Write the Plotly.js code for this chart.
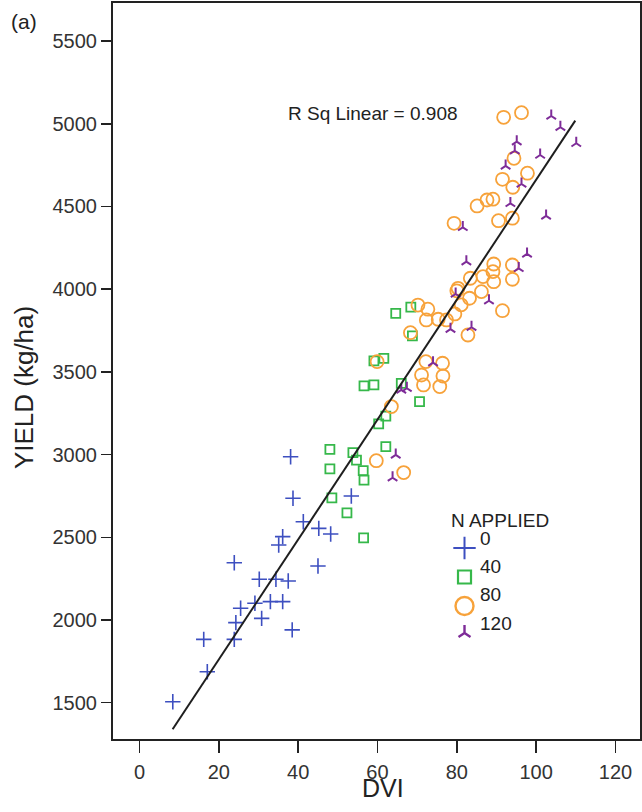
<!DOCTYPE html>
<html><head><meta charset="utf-8">
<script src="https://cdn.plot.ly/plotly-3.0.1.min.js"></script>
<style>html,body{margin:0;padding:0;background:#fff;}#chart{width:642px;height:812px;}</style>
</head><body><div id="chart"></div>
<script>
// ---- data ----
const nLevels = ['0', '40', '80', '120'];
const legendTitle = 'N APPLIED';

const dvi0   = [38.1, 38.7, 41.3, 45.2, 48.2, 36.1, 35.1, 23.9, 45.0, 30.2, 34.4, 37.5, 25.5, 29.1, 33.0, 36.1, 24.3, 30.8, 38.5, 16.2, 23.9, 17.1, 8.4, 53.4];
const yield0 = [2987, 2736, 2594, 2554, 2520, 2504, 2453, 2346, 2326, 2246, 2246, 2236, 2071, 2101, 2111, 2111, 1984, 2010, 1940, 1883, 1883, 1687, 1506, 2750];

const dvi40   = [64.6, 68.4, 68.8, 59.1, 61.6, 56.6, 59.1, 66.0, 70.6, 62.1, 60.3, 62.1, 48.0, 53.8, 54.7, 48.0, 56.4, 56.6, 48.5, 52.3, 56.5];
const yield40 = [3854, 3891, 3717, 3566, 3582, 3415, 3421, 3431, 3320, 3233, 3185, 3048, 3032, 3012, 2967, 2913, 2903, 2846, 2738, 2647, 2496];

const dvi80   = [91.8, 96.3, 94.4, 97.8, 91.5, 94.1, 85.1, 87.6, 89.1, 79.3, 90.5, 94.0, 89.3, 89.1, 94.0, 94.0, 86.6, 83.4, 89.3, 80.3, 80.0, 86.2, 83.2, 81.1, 91.5, 79.5, 77.4, 75.3, 72.7, 70.2, 72.3, 82.8, 68.3, 59.9, 72.2, 76.4, 71.1, 76.5, 71.6, 75.7, 63.5, 59.7, 66.6];
const yield80 = [5039, 5067, 4791, 4701, 4664, 4616, 4503, 4539, 4544, 4398, 4414, 4429, 4152, 4106, 4146, 4060, 4076, 4066, 4045, 4005, 3990, 3985, 3945, 3905, 3870, 3850, 3814, 3818, 3879, 3904, 3814, 3723, 3737, 3562, 3562, 3552, 3481, 3475, 3421, 3411, 3290, 2963, 2891];

const dvi120   = [103.8, 106.1, 110.1, 95.1, 94.6, 101.0, 92.3, 96.3, 93.5, 102.5, 81.5, 97.7, 82.4, 95.6, 79.7, 88.1, 78.4, 83.7, 74.0, 66.0, 67.4, 64.6, 63.8];
const yield120 = [5047, 4979, 4882, 4892, 4837, 4811, 4745, 4636, 4519, 4443, 4374, 4213, 4166, 4126, 3971, 3930, 3758, 3770, 3556, 3391, 3401, 2998, 2860];

const fitX = [8.36, 109.85];
const fitY = [1339, 5019];
const rSqLabel = 'R Sq Linear = 0.908';

const xTicks = [0, 20, 40, 60, 80, 100, 120];
const yTicks = [1500, 2000, 2500, 3000, 3500, 4000, 4500, 5000, 5500];

// ---- styles ----
const FONT = 'Liberation Sans, Arial, Helvetica, sans-serif';
const styles = [
  {symbol: 'cross-thin-open', color: '#3d4fc0', size: 11, lw: 1.6, lsize: 16, llw: 2},
  {symbol: 'square-open',     color: '#36b84a', size: 9,  lw: 1.8, lsize: 13, llw: 2.2},
  {symbol: 'circle-open',     color: '#f7a23a', size: 13, lw: 1.8, lsize: 18, llw: 2.4},
  {symbol: 'y-up-open',       color: '#7e2c98', size: 8,  lw: 2.0, lsize: 10, llw: 2.4}
];
const xs = [dvi0, dvi40, dvi80, dvi120];
const ys = [yield0, yield40, yield80, yield120];

const traces = [];
for (let i = 0; i < 4; i++) {
  traces.push({
    type: 'scatter', mode: 'markers', x: xs[i], y: ys[i], name: nLevels[i],
    marker: {symbol: styles[i].symbol, size: styles[i].size, color: styles[i].color,
             line: {color: styles[i].color, width: styles[i].lw}},
    showlegend: false, hoverinfo: 'x+y'
  });
}
traces.push({type: 'scatter', mode: 'lines', x: fitX, y: fitY,
  line: {color: '#1e1e1e', width: 2}, showlegend: false, hoverinfo: 'skip'});

// manual legend (paper-like overlay axes)
const legSymX = [0.667, 0.667, 0.667, 0.667];
const legSymY = [0.2595, 0.2201, 0.1807, 0.144];
const legTxtY = [0.2725, 0.2337, 0.1957, 0.1576];
for (let i = 0; i < 4; i++) {
  traces.push({
    type: 'scatter', mode: 'markers', x: [legSymX[i]], y: [legSymY[i]], xaxis: 'x2', yaxis: 'y2',
    marker: {symbol: styles[i].symbol, size: styles[i].lsize, color: styles[i].color,
             line: {color: styles[i].color, width: styles[i].llw}},
    showlegend: false, hoverinfo: 'skip'
  });
}

const annotations = [
  {text: '(a)', xref: 'paper', yref: 'paper', x: -0.1687, y: 0.9755, xanchor: 'center', yanchor: 'middle',
   showarrow: false, font: {family: FONT, size: 21, color: '#222'}},
  {text: 'YIELD (kg/ha)', xref: 'paper', yref: 'paper', x: -0.1687, y: 0.4769, textangle: -90,
   xanchor: 'center', yanchor: 'middle', showarrow: false, font: {family: FONT, size: 26, color: '#222'}},
  {text: 'DVI', xref: 'paper', yref: 'paper', x: 0.512, y: -0.066, xanchor: 'center', yanchor: 'middle',
   showarrow: false, font: {family: FONT, size: 25, color: '#222'}},
  {text: rSqLabel, x: 58.8, y: 5065, xanchor: 'center', yanchor: 'middle', showarrow: false,
   font: {family: FONT, size: 19, color: '#222'}},
  {text: legendTitle, xref: 'paper', yref: 'paper', x: 0.637, y: 0.2975, xanchor: 'left', yanchor: 'middle',
   showarrow: false, font: {family: FONT, size: 19, color: '#222'}}
];
for (let i = 0; i < 4; i++) {
  annotations.push({text: nLevels[i], xref: 'paper', yref: 'paper', x: 0.692, y: legTxtY[i],
    xanchor: 'left', yanchor: 'middle', showarrow: false, font: {family: FONT, size: 19, color: '#222'}});
}

const axisCommon = {
  ticks: 'outside', ticklen: 10, tickwidth: 1.5, tickcolor: '#222',
  showline: true, linewidth: 2, linecolor: '#222', mirror: true,
  showgrid: false, zeroline: false,
  tickfont: {family: FONT, size: 20, color: '#333'}
};

const layout = {
  width: 642, height: 812,
  margin: {l: 113, r: 1.5, t: 3, b: 73, pad: 0},
  paper_bgcolor: '#fff', plot_bgcolor: '#fff',
  showlegend: false,
  xaxis: Object.assign({}, axisCommon, {range: [-6.67, 126.17], tickvals: xTicks, ticklen: 12, ticklabelstandoff: 2}),
  yaxis: Object.assign({}, axisCommon, {range: [1280.5, 5730], tickvals: yTicks}),
  xaxis2: {domain: [0, 1], range: [0, 1], overlaying: 'x', visible: false, fixedrange: true},
  yaxis2: {domain: [0, 1], range: [0, 1], overlaying: 'y', anchor: 'x2', visible: false, fixedrange: true},
  annotations: annotations
};

Plotly.newPlot('chart', traces, layout, {displayModeBar: false, staticPlot: true});
</script>
</body></html>
